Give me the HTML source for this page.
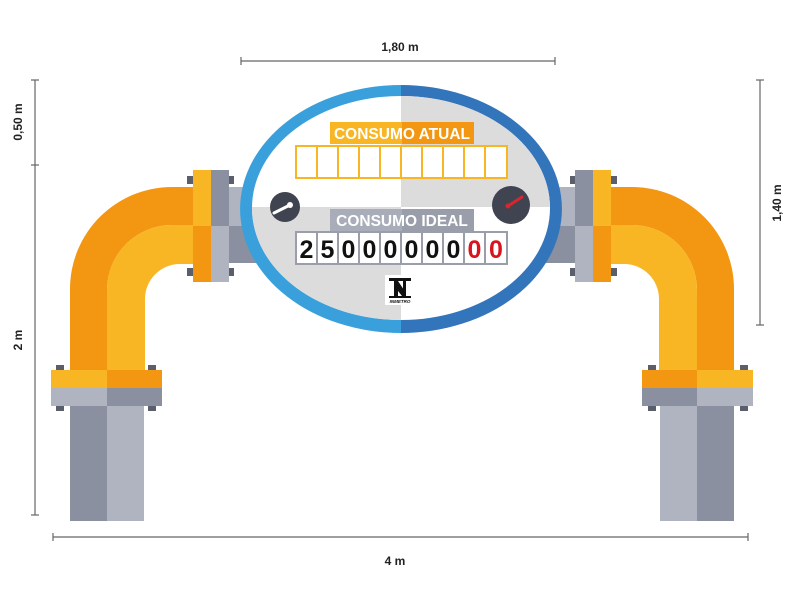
<!DOCTYPE html>
<html><head><meta charset="utf-8"><style>
html,body{margin:0;padding:0;background:#fff;}
svg{display:block;font-family:"Liberation Sans",sans-serif;}
</style></head><body>
<svg width="800" height="600" viewBox="0 0 800 600" xmlns="http://www.w3.org/2000/svg">
<defs>
<g id="side">
  <rect x="229" y="187" width="40" height="39" fill="#b0b4c0"/>
  <rect x="229" y="226" width="40" height="37" fill="#8a90a0"/>
  <path d="M193,187 H172 A102,102 0 0 0 70,289 V370 H107 V290 A65,65 0 0 1 172,225 H193 Z" fill="#f39712"/>
  <path d="M193,225 H172 A65,65 0 0 0 107,290 V370 H145 V299 A35,35 0 0 1 180,264 H193 Z" fill="#f9b624"/>
  <rect x="187" y="176" width="7" height="8" fill="#5a5f6b"/>
  <rect x="187" y="268" width="7" height="8" fill="#5a5f6b"/>
  <rect x="228" y="176" width="6" height="8" fill="#5a5f6b"/>
  <rect x="228" y="268" width="6" height="8" fill="#5a5f6b"/>
  <rect x="193" y="170" width="18" height="56" fill="#f9b624"/>
  <rect x="193" y="226" width="18" height="56" fill="#f39712"/>
  <rect x="211" y="170" width="18" height="56" fill="#8a90a0"/>
  <rect x="211" y="226" width="18" height="56" fill="#b0b4c0"/>
  <rect x="56" y="365" width="8" height="6" fill="#5a5f6b"/>
  <rect x="148" y="365" width="8" height="6" fill="#5a5f6b"/>
  <rect x="56" y="405" width="8" height="6" fill="#5a5f6b"/>
  <rect x="148" y="405" width="8" height="6" fill="#5a5f6b"/>
  <rect x="51" y="370" width="56" height="18" fill="#f9b624"/>
  <rect x="107" y="370" width="55" height="18" fill="#f39712"/>
  <rect x="51" y="388" width="56" height="18" fill="#b0b4c0"/>
  <rect x="107" y="388" width="55" height="18" fill="#8a90a0"/>
  <rect x="70" y="406" width="37" height="115" fill="#8a90a0"/>
  <rect x="107" y="406" width="37" height="115" fill="#b0b4c0"/>
</g>
<clipPath id="ell"><ellipse cx="401" cy="208" rx="149" ry="112"/></clipPath>
</defs>

<use href="#side"/>
<use href="#side" transform="translate(804,0) scale(-1,1)"/>

<path d="M401,85 A161,124 0 0 0 401,333 Z" fill="#3aa0dc"/>
<path d="M401,85 A161,124 0 0 1 401,333 Z" fill="#3375bb"/>
<ellipse cx="401" cy="208" rx="149" ry="112" fill="#fff"/>
<g clip-path="url(#ell)">
  <rect x="401" y="80" width="170" height="127" fill="#dcdcdd"/>
  <rect x="230" y="207" width="171" height="130" fill="#dcdcdd"/>
</g>

<rect x="330" y="122" width="72" height="22" fill="#f9b624"/>
<rect x="402" y="122" width="72" height="22" fill="#f39712"/>
<text x="402" y="139" text-anchor="middle" font-size="15.5" font-weight="bold" fill="#fff">CONSUMO ATUAL</text>
<rect x="295" y="145" width="213" height="34" fill="#f9b624"/>
<g fill="#fff">
<rect x="297" y="147" width="19" height="30"/><rect x="318" y="147" width="19" height="30"/><rect x="339" y="147" width="19" height="30"/><rect x="360" y="147" width="19" height="30"/><rect x="381" y="147" width="19" height="30"/><rect x="402" y="147" width="19" height="30"/><rect x="423" y="147" width="19" height="30"/><rect x="444" y="147" width="19" height="30"/><rect x="465" y="147" width="19" height="30"/><rect x="486" y="147" width="20" height="30"/>
</g>

<circle cx="285" cy="207" r="15" fill="#3f4450"/>
<line x1="274" y1="213" x2="290" y2="205" stroke="#fff" stroke-width="3" stroke-linecap="round"/>
<circle cx="290" cy="205" r="3" fill="#fff"/>
<circle cx="511" cy="205" r="19" fill="#3f4450"/>
<line x1="508" y1="206" x2="522" y2="197" stroke="#d8262c" stroke-width="3" stroke-linecap="round"/>
<circle cx="508" cy="206" r="2.5" fill="#d8262c"/>

<rect x="330" y="209" width="72" height="22" fill="#a9adb9"/>
<rect x="402" y="209" width="72" height="22" fill="#9a9eab"/>
<text x="402" y="226" text-anchor="middle" font-size="15.5" font-weight="bold" fill="#fff">CONSUMO IDEAL</text>
<rect x="295" y="231" width="213" height="34" fill="#9a9eab"/>
<g fill="#fff">
<rect x="297" y="233" width="19" height="30"/><rect x="318" y="233" width="19" height="30"/><rect x="339" y="233" width="19" height="30"/><rect x="360" y="233" width="19" height="30"/><rect x="381" y="233" width="19" height="30"/><rect x="402" y="233" width="19" height="30"/><rect x="423" y="233" width="19" height="30"/><rect x="444" y="233" width="19" height="30"/><rect x="465" y="233" width="19" height="30"/><rect x="486" y="233" width="20" height="30"/>
</g>
<g font-size="25" font-weight="bold" text-anchor="middle" fill="#111">
<text x="306.5" y="258">2</text><text x="327.5" y="258">5</text><text x="348.5" y="258">0</text><text x="369.5" y="258">0</text><text x="390.5" y="258">0</text><text x="411.5" y="258">0</text><text x="432.5" y="258">0</text><text x="453.5" y="258">0</text>
<text x="474.5" y="258" fill="#d8141c">0</text><text x="496" y="258" fill="#d8141c">0</text>
</g>

<rect x="385" y="275" width="29" height="30" fill="#fff"/>
<rect x="389" y="278" width="22" height="3" fill="#111"/>
<rect x="394" y="281" width="4" height="15" fill="#111"/>
<rect x="403" y="281" width="3" height="15" fill="#111"/>
<polygon points="394,281 398,281 406,293 406,296 402,296 394,286" fill="#111"/>
<rect x="389" y="296" width="22" height="2" fill="#111"/>
<text x="400" y="303" text-anchor="middle" font-size="4.5" font-weight="bold" font-style="italic" fill="#111">INMETRO</text>

<g stroke="#666" stroke-width="1.2" fill="none">
<line x1="241" y1="61" x2="555" y2="61"/><line x1="241" y1="57" x2="241" y2="65"/><line x1="555" y1="57" x2="555" y2="65"/>
<line x1="35" y1="80" x2="35" y2="515"/><line x1="31" y1="80" x2="39" y2="80"/><line x1="31" y1="165" x2="39" y2="165"/><line x1="31" y1="515" x2="39" y2="515"/>
<line x1="760" y1="80" x2="760" y2="325"/><line x1="756" y1="80" x2="764" y2="80"/><line x1="756" y1="325" x2="764" y2="325"/>
<line x1="53" y1="537" x2="748" y2="537"/><line x1="53" y1="533" x2="53" y2="541"/><line x1="748" y1="533" x2="748" y2="541"/>
</g>
<g font-size="12" font-weight="bold" fill="#222" text-anchor="middle">
<text x="400" y="51">1,80 m</text>
<text x="395" y="565">4 m</text>
<text transform="translate(22,122) rotate(-90)">0,50 m</text>
<text transform="translate(22,340) rotate(-90)">2 m</text>
<text transform="translate(781,203) rotate(-90)">1,40 m</text>
</g>
</svg>
</body></html>
